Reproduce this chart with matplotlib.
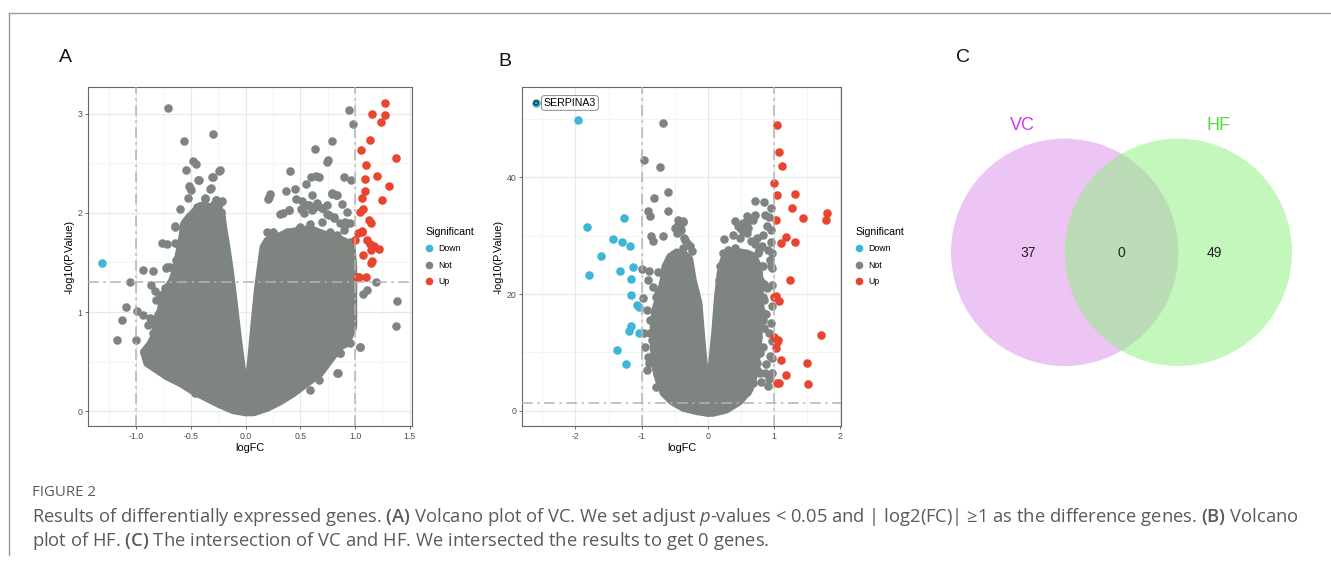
import matplotlib
matplotlib.use("Agg")
import matplotlib.pyplot as plt
from matplotlib.patches import Circle
from matplotlib.lines import Line2D

# ---------------- data ----------------
# Panel A (VC) volcano
a_up_x = [1.277, 1.152, 1.271, 1.235, 1.140, 1.055, 1.378, 1.101, 1.091, 1.201, 1.308, 1.088, 1.247, 1.061, 1.070,
          1.043, 1.125, 1.146, 1.067, 1.023, 0.996, 1.111, 1.140, 1.171, 1.216, 1.143, 1.070, 1.155, 1.149, 1.017,
          1.034, 1.103, 1.060]
a_up_y = [3.107, 2.996, 2.986, 2.916, 2.734, 2.630, 2.553, 2.486, 2.341, 2.368, 2.271, 2.220, 2.133, 2.146, 2.039,
          2.009, 1.925, 1.898, 1.807, 1.797, 1.727, 1.723, 1.690, 1.663, 1.639, 1.629, 1.572, 1.515, 1.495, 1.358,
          1.354, 1.354, 1.818]
a_down_x = [-1.308]
a_down_y = [1.495]
a_not_x = [-0.710, 0.945, 0.985, -0.302, -0.561, 0.787, 0.634, 0.741, 0.756, -0.479, -0.457, -0.546, -0.241, 0.409,
           -0.305, -0.427, 0.598, 0.640, 0.671, 0.902, 0.966, 0.552, -0.518, -0.500, -0.326, 0.226, 0.213, 0.207,
           0.369, 0.454, 0.607, 0.790, 0.826, 0.460, -0.372, -0.271, -0.216, -0.604, -0.646, -0.552, -0.445, -0.384,
           -0.293, 0.317, 0.393, 0.506, 0.561, 0.637, 0.698, 0.744, 0.805, 0.881, 0.912, 0.957, 0.500, 0.226, 0.378,
           0.591, 1.195, 1.113, 1.073, 1.384, 1.375, 1.046, 0.841, 0.866, -1.055, -0.933, -0.848, -0.765, -0.720,
           -0.646, -1.091, -1.131, -0.994, -1.003, -1.177, -0.546, -0.460, -0.720, -0.628, 0.97, 0.95, 0.93,
           -0.93, -0.90, -0.85, -0.80,
           -0.724, -0.694, -0.633, -0.862, -0.831, -0.816, -0.785, -0.739, -0.709, -0.938, -0.877, -0.892, -0.831,
           -0.846, -0.801, -0.785, -0.739, -0.908, -0.862, -0.801, -0.739, -0.679, -0.633, -0.542, -0.465,
           -0.526, -0.510, -0.435, -0.373, -0.313, -0.297, -0.236, -0.267, -0.221, -0.373, -0.252, -0.221, -0.556,
           -0.526, -0.648,
           0.514, 0.575, 0.651, 0.697, 0.758, 0.803, 0.865, 0.910, 0.346, 0.392, 0.529, 0.606, 0.743, 0.789, 0.834,
           0.926, 0.697, 0.194, 0.254, 0.331, 0.407, 0.437, 0.499, 0.590, 0.773, 0.834, 0.895, 0.956,
           0.956, 0.926, 0.972, 0.926, 0.956, 0.865, 1.048, 0.834, 0.666, 0.590]
a_not_y = [3.057, 3.037, 2.892, 2.798, 2.728, 2.728, 2.644, 2.509, 2.529, 2.526, 2.489, 2.429, 2.425, 2.422,
           2.361, 2.328, 2.358, 2.375, 2.358, 2.358, 2.335, 2.294, 2.267, 2.234, 2.244, 2.193, 2.160, 2.136,
           2.224, 2.240, 2.180, 2.193, 2.180, 2.143, 2.140, 2.133, 2.120, 2.042, 1.864, 1.841, 2.059, 2.032,
           2.093, 1.992, 2.032, 2.042, 2.076, 2.059, 2.049, 1.992, 1.958, 2.086, 1.908, 1.898, 1.858, 1.790, 1.807,
           1.891, 1.303, 1.226, 1.186, 1.108, 0.857, 0.648, 0.380, 0.588, 1.303, 1.421, 1.414, 1.700, 1.690,
           1.700, 1.051, 0.924, 1.008, 0.722, 0.722, 0.262, 0.178, 1.454, 1.522, 0.85, 0.90, 0.78,
           0.60, 0.55, 0.50, 0.45,
           1.442, 1.459, 1.525, 1.273, 1.207, 1.122, 1.172, 1.240, 1.190, 0.971, 0.937, 0.870, 0.904,
           0.786, 0.837, 0.703, 0.753, 0.602, 0.568, 0.534, 0.467, 0.433, 0.333, 0.265, 0.199,
           2.147, 2.248, 2.332, 2.147, 2.248, 2.366, 2.432, 2.130, 2.114, 2.063, 2.063, 2.013, 1.777,
           1.912, 1.862,
           2.120, 2.080, 2.097, 2.046, 1.979, 1.946, 1.895, 1.878, 1.996, 2.029, 1.996, 2.029, 2.080, 2.198, 2.180,
           2.013, 1.912, 1.811, 1.804, 1.727, 1.811, 1.727, 1.845, 1.828, 1.811, 1.777, 1.828, 1.711,
           1.172, 1.038, 0.904, 0.769, 0.685, 0.585, 0.652, 0.383, 0.316, 0.215]
# dense "Not" cloud outlines (left and right lobes)
a_core_left_x = [0.0, -0.110, -0.232, -0.354, -0.476, -0.598, -0.720, -0.811, -0.902, -0.933, -0.872, -0.826, -0.826,
                 -0.780, -0.750, -0.674, -0.643, -0.613, -0.582, -0.567, -0.521, -0.415, -0.293, -0.216, -0.201,
                 -0.171, -0.140, -0.110, -0.064, -0.024, -0.006]
a_core_left_y = [-0.017, 0.003, 0.060, 0.128, 0.195, 0.279, 0.346, 0.413, 0.480, 0.598, 0.682, 0.783, 0.917,
                 1.018, 1.186, 1.320, 1.421, 1.589, 1.757, 1.891, 1.958, 2.076, 2.059, 1.992, 1.858,
                 1.656, 1.421, 1.152, 0.716, 0.380, 0.212]
a_core_right_x = [0.012, 0.043, 0.079, 0.110, 0.134, 0.159, 0.195, 0.256, 0.348, 0.470, 0.591, 0.713, 0.805, 0.896,
                  0.973, 0.988, 0.988, 0.988, 0.927, 0.866, 0.774, 0.683, 0.561, 0.439, 0.317, 0.195, 0.073, 0.0]
a_core_right_y = [0.212, 0.480, 0.917, 1.253, 1.454, 1.656, 1.723, 1.740, 1.790, 1.824, 1.841, 1.790, 1.757, 1.723,
                  1.656, 1.454, 1.186, 0.850, 0.682, 0.648, 0.514, 0.380, 0.279, 0.178, 0.094, 0.027, -0.017, -0.017]
a_xticks = [-1.0, -0.5, 0.0, 0.5, 1.0, 1.5]
a_xtick_labels = ["-1.0", "-0.5", "0.0", "0.5", "1.0", "1.5"]
a_yticks = [0, 1, 2, 3]

# Panel B (HF) volcano
b_up_x = [1.051, 1.081, 1.131, 1.010, 1.045, 1.323, 1.273, 1.439, 1.030, 1.808, 1.788, 1.182, 1.111, 1.323, 1.253,
          1.010, 1.076, 1.717, 1.010, 1.051, 1.040, 1.116, 1.500, 1.187, 1.525, 1.056, 1.086, 1.030, 1.060]
b_up_y = [48.96, 44.28, 41.94, 38.92, 36.86, 37.09, 34.69, 32.98, 32.70, 33.84, 32.64, 29.73, 28.64, 28.87, 22.43,
          19.46, 18.77, 13.01, 12.72, 11.87, 10.73, 8.73, 8.16, 6.16, 4.56, 4.74, 4.74, 19.6, 12.2]
b_down_x = [-2.596, -1.965, -1.828, -1.268, -1.439, -1.298, -1.182, -1.611, -1.323, -1.131, -1.793, -1.157, -1.157,
            -1.066, -1.045, -1.157, -1.197, -1.040, -1.379, -1.232]
b_down_y = [52.67, 49.81, 31.38, 32.98, 29.44, 28.93, 28.25, 26.42, 23.85, 24.59, 23.17, 22.65, 19.86,
            18.15, 17.86, 14.55, 13.69, 13.41, 10.44, 7.99]
b_label_gene = "SERPINA3"
b_not_x = [-0.677, -0.960, -0.717, -0.601, -0.818, -0.904, -0.874, -0.601, -0.854, -0.823, -0.682, -0.490, -0.444,
           -0.379, -0.470, -0.995, -0.889, -0.747, -0.899, -0.823, -0.783, -0.975, -0.924, -0.960, -0.949, -0.899,
           -0.884, -0.914, -0.783, -0.621, -0.848, -0.45, -0.40, -0.36,
           0.854, 0.717, 0.712, 0.874, 0.960, 0.414, 0.894, 0.934, 0.253, 0.379, 0.500, 0.591, 0.641, 0.833,
           0.955, 0.919, 0.944, 0.960, 0.833, 0.854, 0.904, 0.884, 0.854, 0.934, 0.843, 0.944, 0.874, 0.919,
           0.803, 0.742, 0.465, 0.540, 0.60, 0.65, 0.72, 0.78, 0.96, 0.97, 0.97, 0.97, 0.98, 0.96, 0.97, 0.98,
           0.97, 0.93, 0.86, 0.82, 0.88,
           -0.874, -0.798, -0.874, -0.773, -0.798, -0.747, -0.773, -0.697, -0.621, -0.545, -0.747, -0.697, -0.672,
           -0.571, -0.530, -0.444, -0.369, -0.343, -0.444, -0.419, -0.369, -0.318, -0.268, -0.242, -0.278,
           0.237, 0.313, 0.414, 0.490, 0.540, 0.616, 0.692, 0.591, 0.742, 0.818, 0.768, 0.803, 0.793, 0.843,
           0.793, 0.833, 0.768, 0.793, 0.742, 0.793, 0.692, 0.591, 0.187, 0.177]
b_not_y = [49.24, 42.85, 41.71, 37.49, 36.40, 34.24, 33.27, 34.12, 29.84, 28.99, 29.84, 31.27, 31.84,
           32.24, 30.41, 24.31, 23.85, 23.68, 22.43, 21.17, 19.57, 19.29, 17.29, 13.30, 11.01, 9.30,
           8.16, 7.02, 4.17, 4.74, 12.15, 32.6, 30.9, 29.5,
           35.66, 35.83, 33.55, 33.55, 34.69, 32.52, 31.67, 33.15, 29.44, 30.01, 31.16, 32.13, 32.81, 30.13,
           28.82, 27.56, 25.85, 24.71, 24.71, 21.74, 21.00, 16.55, 14.15, 13.30, 11.01, 9.42, 6.45, 4.28,
           5.02, 7.02, 31.55, 32.13, 30.5, 29.0, 28.5, 27.5, 31.0, 27.0, 24.5, 21.5, 18.0, 15.0, 12.0, 9.0,
           6.5, 5.5, 19.0, 17.0, 8.0,
           15.58, 14.44, 13.30, 11.58, 9.87, 8.16, 6.45, 5.31, 3.31, 2.74, 20.14, 19.00, 16.72,
           25.56, 26.13, 26.42, 27.85, 29.27, 30.70, 31.55, 32.41, 28.70, 28.13, 27.28, 24.71,
           26.99, 27.56, 27.85, 29.56, 30.70, 31.27, 32.70, 33.27, 29.56, 28.13, 26.99, 24.71, 22.43, 19.57,
           17.86, 15.58, 12.72, 9.87, 8.16, 6.45, 4.74, 3.31, 24.71, 22.43]
b_core_left_x = [0.0, -0.167, -0.369, -0.545, -0.672, -0.747, -0.798, -0.823, -0.823, -0.798, -0.722, -0.672, -0.646,
                 -0.571, -0.470, -0.370, -0.270, -0.217, -0.130, -0.076, -0.025, -0.005]
b_core_left_y = [-0.40, -0.11, 0.46, 1.60, 3.02, 5.31, 7.59, 11.01, 15.01, 17.29, 20.14, 22.43, 24.71,
                 26.42, 27.20, 27.00, 26.00, 22.40, 18.40, 11.00, 5.30, 3.31]
b_core_right_x = [0.010, 0.061, 0.111, 0.150, 0.190, 0.237, 0.288, 0.389, 0.490, 0.600, 0.700, 0.780, 0.800, 0.800,
                  0.770, 0.720, 0.640, 0.490, 0.288, 0.086, 0.0]
b_core_right_y = [3.31, 8.16, 13.87, 19.57, 23.57, 25.85, 26.99, 27.28, 27.20, 27.00, 26.50, 24.50, 21.00, 16.72,
                  11.01, 6.45, 3.59, 1.60, 0.17, -0.40, -0.40]
b_xticks = [-2, -1, 0, 1, 2]
b_xtick_labels = ["-2", "-1", "0", "1", "2"]
b_yticks = [0, 20, 40]

# Thresholds
fc_cut = 1.0
p_cut = 1.30103   # -log10(0.05)

# Panel C Venn
venn_sets = ["VC", "HF"]
venn_counts = [37, 0, 49]   # VC only, both, HF only

caption_title = "FIGURE 2"

# ---------------- style ----------------
plt.rcParams["font.family"] = ["Liberation Sans", "DejaVu Sans"]
plt.rcParams["mathtext.fontset"] = "custom"
plt.rcParams["mathtext.rm"] = "Open Sans"
plt.rcParams["mathtext.it"] = "Open Sans:italic"
plt.rcParams["mathtext.bf"] = "Open Sans:semibold"

C_NOT = "#7E8581"
C_UP = "#E8442F"
C_DOWN = "#3DB6D8"
PT = 38

W, H = 1331, 569
fig = plt.figure(figsize=(W / 100, H / 100), dpi=100)

def px_axes(l, r, t, b):
    return fig.add_axes([l / W, 1 - b / H, (r - l) / W, (b - t) / H])

def volcano(ax, xlim, ylim, xticks, xlabels, yticks, xminor, yminor,
            core_l, core_r, nx, ny, ux, uy, dx, dy):
    ax.set_xlim(*xlim)
    ax.set_ylim(*ylim)
    for v in xminor:
        ax.axvline(v, color="#F3F3F3", lw=0.6, zorder=0)
    for v in yminor:
        ax.axhline(v, color="#F3F3F3", lw=0.6, zorder=0)
    for v in xticks:
        ax.axvline(v, color="#E8E8E8", lw=0.9, zorder=0)
    for v in yticks:
        ax.axhline(v, color="#E8E8E8", lw=0.9, zorder=0)
    for cx, cy in (core_l, core_r):
        ax.fill(cx, cy, facecolor=C_NOT, edgecolor=C_NOT, lw=5, joinstyle="round", zorder=2)
    ax.scatter(nx, ny, s=PT, color=C_NOT, lw=0, zorder=3)
    ax.scatter(dx, dy, s=PT, color=C_DOWN, lw=0, zorder=4)
    ax.scatter(ux, uy, s=PT, color=C_UP, lw=0, zorder=4)
    ls = (0, (7, 3, 1.5, 3))
    for v in (-fc_cut, fc_cut):
        ax.axvline(v, color="#B3B3B3", lw=1.1, ls=ls, zorder=5)
    ax.axhline(p_cut, color="#B3B3B3", lw=1.1, ls=ls, zorder=5)
    ax.set_xticks(xticks)
    ax.set_xticklabels(xlabels)
    ax.set_yticks(yticks)
    ax.tick_params(labelsize=6.3, labelcolor="#4D4D4D", color="#555555", length=2.5, width=0.6, pad=1.5)
    for s in ax.spines.values():
        s.set_color("#666666")
        s.set_linewidth(0.8)
    ax.set_xlabel("logFC", fontsize=7.8, labelpad=2)
    ax.set_ylabel("-log10(P.Value)", fontsize=7.8, labelpad=2)

def legend(ax, x, y):
    handles = [Line2D([], [], marker="o", ls="", color=c, markersize=5.5, markeredgewidth=0)
               for c in (C_DOWN, C_NOT, C_UP)]
    lg = ax.legend(handles, ["Down", "Not", "Up"], title="Significant", loc="upper left",
                   bbox_to_anchor=(x / W, 1 - y / H), bbox_transform=fig.transFigure,
                   frameon=False, fontsize=6.3, title_fontsize=7.6, borderpad=0, borderaxespad=0,
                   handletextpad=0.5, handlelength=1.0, labelspacing=0.85, alignment="left")
    return lg

# Panel A
axA = px_axes(88, 412, 87, 426)
volcano(axA, (-1.44, 1.52), (-0.15, 3.27), a_xticks, a_xtick_labels, a_yticks,
        [-1.25, -0.75, -0.25, 0.25, 0.75, 1.25], [0.5, 1.5, 2.5],
        (a_core_left_x, a_core_left_y), (a_core_right_x, a_core_right_y),
        a_not_x, a_not_y, a_up_x, a_up_y, a_down_x, a_down_y)
legend(axA, 425, 227)

# Panel B
axB = px_axes(522, 841, 87, 426)
volcano(axB, (-2.81, 2.02), (-2.57, 55.4), b_xticks, b_xtick_labels, b_yticks,
        [-2.5, -1.5, -0.5, 0.5, 1.5], [10, 30, 50],
        (b_core_left_x, b_core_left_y), (b_core_right_x, b_core_right_y),
        b_not_x, b_not_y, b_up_x, b_up_y, b_down_x, b_down_y)
legend(axB, 855, 227)
axB.scatter([b_down_x[0]], [b_down_y[0]], s=9, facecolor="none", edgecolor="#222222", lw=0.9, zorder=6)
axB.annotate(b_label_gene, xy=(b_down_x[0], b_down_y[0]), xytext=(5.5, 0), textcoords="offset points",
             fontsize=7.6, va="center", ha="left", zorder=7,
             bbox=dict(boxstyle="round,pad=0.22,rounding_size=0.3", fc="white", ec="#777777", lw=0.6))

# Overlay axes in pixel coordinates for Venn, letters, caption, frame
ov = fig.add_axes([0, 0, 1, 1], zorder=-1)
ov.set_xlim(0, W)
ov.set_ylim(H, 0)
ov.axis("off")

ov.plot([9, W], [13, 13], color="#9A9A9A", lw=1)
ov.plot([9, 9], [13, 555], color="#9A9A9A", lw=1)

for lbl, (x, y) in zip("ABC", [(65, 58), (505, 61), (963, 57)]):
    fig.text(x / W, 1 - y / H, lbl, fontsize=14, ha="center", va="center", color="#111111")

# Venn
r = 113.7
c1 = (1064.7, 252.3)
c2 = (1178.3, 252.3)
ov.add_patch(Circle(c1, r, facecolor="#DD8DED", alpha=0.5, lw=0))
ov.add_patch(Circle(c2, r, facecolor="#89F179", alpha=0.5, lw=0))
ov.text(1022, 125, venn_sets[0], fontsize=13, color="#CC3BEB", ha="center", va="center")
ov.text(1218, 125, venn_sets[1], fontsize=13, color="#4FE03A", ha="center", va="center")
for (x, y), n in zip([(1028, 253), (1121, 253), (1214, 253)], venn_counts):
    ov.text(x, y, str(n), fontsize=10, color="#222222", ha="center", va="center")

# Caption
cap_font = ["Open Sans", "DejaVu Sans"]
fig.text(32 / W, 1 - 493 / H, caption_title, fontsize=10.8, color="#5A5A5A", family=cap_font, va="center")
line1 = (r"Results of differentially expressed genes. $\mathbf{(A)}$ Volcano plot of VC. We set adjust "
         r"$\it{p}$-values < 0.05 and | log2(FC)| ≥1 as the difference genes. $\mathbf{(B)}$ Volcano")
line2 = r"plot of HF. $\mathbf{(C)}$ The intersection of VC and HF. We intersected the results to get 0 genes."
fig.text(32 / W, 1 - 517 / H, line1, fontsize=13.2, color="#5A5A5A", family=cap_font, va="center")
fig.text(32 / W, 1 - 541 / H, line2, fontsize=13.2, color="#5A5A5A", family=cap_font, va="center")

fig.savefig("out.png", dpi=100)
